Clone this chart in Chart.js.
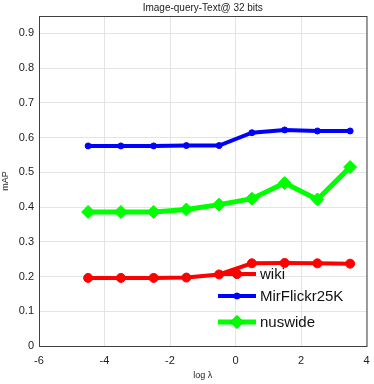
<!DOCTYPE html>
<html>
<head>
<meta charset="utf-8">
<script src="https://cdn.jsdelivr.net/npm/chart.js@4"></script>
<style>
  html, body { margin: 0; padding: 0; background: #fff; }
  #wrap { width: 374px; height: 384px; }
</style>
</head>
<body>
<div id="wrap"><canvas id="g1" width="374" height="384"></canvas></div>
<script>
var lambdas = [-4.5, -3.5, -2.5, -1.5, -0.5, 0.5, 1.5, 2.5, 3.5];
var wiki = [0.196, 0.196, 0.196, 0.197, 0.206, 0.238, 0.239, 0.238, 0.237];
var mirflickr = [0.576, 0.576, 0.576, 0.577, 0.577, 0.614, 0.622, 0.619, 0.619];
var nuswide = [0.386, 0.386, 0.386, 0.393, 0.407, 0.424, 0.469, 0.422, 0.515];
var xTicks = [-6, -4, -2, 0, 2, 4];
var yTicks = [0, 0.1, 0.2, 0.3, 0.4, 0.5, 0.6, 0.7, 0.8, 0.9];

function pts(ys) {
  return lambdas.map(function (x, i) { return { x: x, y: ys[i] }; });
}

// title, box and in-plot legend
var extras = {
  id: 'extras',
  afterDatasetsDraw: function (chart) {
    var c = chart.ctx, a = chart.chartArea;
    c.save();
    c.strokeStyle = '#404040';
    c.lineWidth = 1;
    c.strokeRect(a.left + 0.5, a.top + 0.5, a.right - a.left, a.bottom - a.top);
    c.fillStyle = '#222';
    c.font = '10px "Liberation Sans", Arial, sans-serif';
    c.textAlign = 'center';
    c.textBaseline = 'middle';
    c.fillText('Image-query-Text@ 32 bits', (a.left + a.right) / 2, 8);

    var rows = [274, 296, 322];
    c.font = '15px "Liberation Sans", Arial, sans-serif';
    c.textAlign = 'left';
    chart.data.datasets.forEach(function (ds, i) {
      var y = rows[i];
      c.strokeStyle = ds.borderColor;
      c.lineWidth = ds.borderWidth;
      c.beginPath();
      c.moveTo(218, y);
      c.lineTo(256, y);
      c.stroke();
      c.lineWidth = 1;
      Chart.helpers.drawPoint(c, {
        pointStyle: ds.pointStyle,
        radius: ds.pointRadius,
        borderWidth: 1
      }, 237, y);
      c.fillStyle = ds.borderColor;
      c.fill();
      c.fillStyle = '#111';
      c.fillText(ds.label, 260, y + 1);
    });
    c.restore();
  }
};

var g1 = document.getElementById('g1').getContext('2d');
var myG1 = new Chart(g1, {
  type: 'line',
  data: {
    datasets: [{
      label: 'wiki',
      data: pts(wiki),
      borderColor: 'rgb(255,0,0)',
      backgroundColor: 'rgb(255,0,0)',
      borderWidth: 4,
      pointStyle: 'circle',
      pointRadius: 4.5,
      pointBorderWidth: 1
    }, {
      label: 'MirFlickr25K',
      data: pts(mirflickr),
      borderColor: 'rgb(0,0,255)',
      backgroundColor: 'rgb(0,0,255)',
      borderWidth: 4,
      pointStyle: 'circle',
      pointRadius: 3,
      pointBorderWidth: 1
    }, {
      label: 'nuswide',
      data: pts(nuswide),
      borderColor: 'rgb(0,255,0)',
      backgroundColor: 'rgb(0,255,0)',
      borderWidth: 5,
      pointStyle: 'rectRot',
      pointRadius: 6.5,
      pointBorderWidth: 1
    }]
  },
  options: {
    responsive: false,
    animation: false,
    layout: { padding: { left: 0, right: 5, top: 16, bottom: 0 } },
    plugins: {
      legend: { display: false },
      tooltip: { enabled: false }
    },
    scales: {
      x: {
        type: 'linear',
        min: -6,
        max: 4,
        afterBuildTicks: function (s) { s.ticks = xTicks.map(function (v) { return { value: v }; }); },
        afterFit: function (s) { s.height = 38; s.paddingLeft = 0; s.paddingRight = 0; },
        grid: { color: '#e4e4e4', drawTicks: false },
        border: { color: '#404040' },
        ticks: {
          color: '#222',
          padding: 8,
          font: { size: 11, family: '"Liberation Sans", Arial, sans-serif' }
        },
        title: {
          display: true,
          text: 'log λ',
          color: '#222',
          padding: { top: 0, bottom: 3 },
          font: { size: 9, family: '"Liberation Sans", Arial, sans-serif' }
        }
      },
      y: {
        min: 0,
        max: 0.95,
        afterBuildTicks: function (s) { s.ticks = yTicks.map(function (v) { return { value: v }; }); },
        afterFit: function (s) { s.width = 39; s.paddingTop = 0; s.paddingBottom = 0; },
        grid: { color: '#e4e4e4', drawTicks: false },
        border: { color: '#404040' },
        ticks: {
          color: '#222',
          padding: 5,
          font: { size: 11, family: '"Liberation Sans", Arial, sans-serif' },
          callback: function (v) { return v === 0 ? '0' : v.toFixed(1); }
        },
        title: {
          display: true,
          text: 'mAP',
          color: '#222',
          padding: { top: 0, bottom: 0 },
          font: { size: 9, family: '"Liberation Sans", Arial, sans-serif' }
        }
      }
    }
  },
  plugins: [extras]
});
</script>
</body>
</html>
